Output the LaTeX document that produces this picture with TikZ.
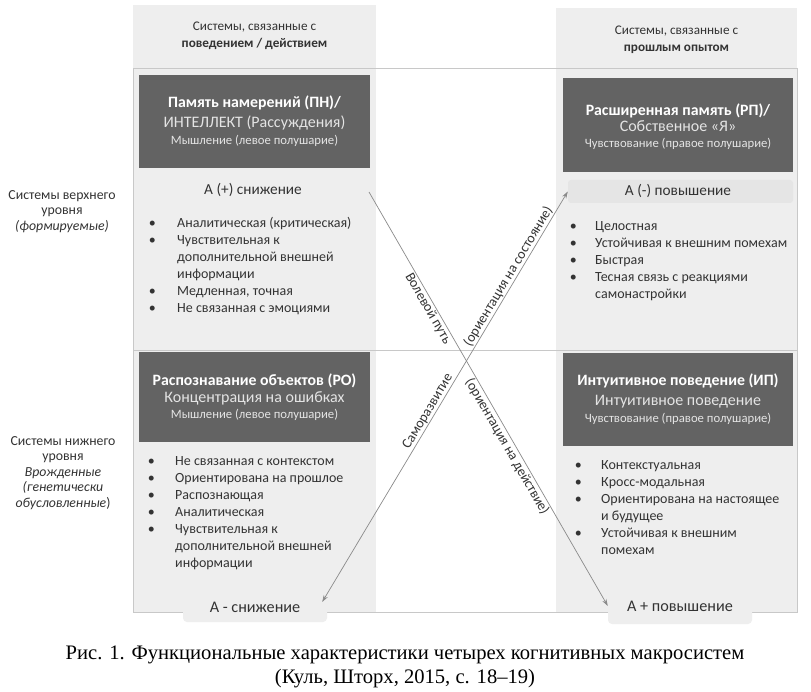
\documentclass[tikz,border=0pt]{standalone}
\usepackage{fontspec}
\setmainfont{Carlito}
\newfontfamily\capfont{Liberation Serif}
\usetikzlibrary{arrows.meta}
\definecolor{colbg}{HTML}{EEEEEE}
\definecolor{barbg}{HTML}{E5E5E5}
\definecolor{darkbg}{HTML}{636363}
\definecolor{txt}{HTML}{333333}
\definecolor{framec}{HTML}{C8C8C8}
\definecolor{arrc}{HTML}{8A8A8A}
\definecolor{lighttxt}{HTML}{E4E4E4}
\newcommand\fs[2]{\fontsize{#1}{#2}\selectfont}
\begin{document}
\begin{tikzpicture}[x=1pt,y=-1pt,
  every node/.style={inner sep=0pt, text=txt},
  darkbox/.style={fill=darkbg, draw=none},
  dtitle/.style={anchor=mid, text=white, font=\fs{15.8}{18}\bfseries},
  dsecond/.style={anchor=mid, text=lighttxt, font=\fs{16}{18}},
  dthird/.style={anchor=mid, text=lighttxt, font=\fs{12.7}{15}},
  blist/.style={anchor=mid west, font=\fs{14}{17}},
  header/.style={anchor=mid, font=\fs{13.2}{17}},
  side/.style={anchor=mid, font=\fs{13.8}{15.5}},
  alabel/.style={anchor=mid, font=\fs{15.3}{18}},
  abox/.style={fill=colbg, draw=none, rounded corners=4pt, font=\fs{16.2}{18}},
  arrowline/.style={draw=arrc, line width=0.7pt},
  tip/.style={-{Stealth[length=7pt,width=4.5pt]}},
  lab/.style={font=\fs{14}{16}, inner sep=0pt},
]
\useasboundingbox (0,0) rectangle (811,692);
\fill[white] (0,0) rectangle (811,692);
% columns
\fill[colbg] (133,5) rectangle (376,612);
\fill[colbg] (556,8) rectangle (797,612);
\draw[framec, line width=0.8pt] (133,68) rectangle (797,612);
\draw[framec, line width=0.8pt] (133,350) -- (797,350);

% headers
\node[header] (hl1) at (254.5,28) {Системы, связанные с};
\node[header, font=\fs{13.2}{17}\bfseries] (hl2) at (254.5,45) {поведением / действием};
\node[header] (hr1) at (676.5,32) {Системы, связанные с};
\node[header, font=\fs{13.2}{17}\bfseries] (hr2) at (676.5,49) {прошлым опытом};

% side labels
\node[side] (up) at (62,197) {\begin{tabular}[t]{@{}c@{}}Системы верхнего\\уровня\\\textit{(формируемые)}\end{tabular}};
\node[side] (low) at (63,443) {\begin{tabular}[t]{@{}c@{}}Системы нижнего\\уровня\\\textit{Врожденные}\\\textit{(генетически}\\\textit{обусловленные})\end{tabular}};

% dark boxes
\node[darkbox, minimum width=231pt, minimum height=93pt] (pn) at (254.5,121.5) {};
\node[dtitle] (pn1) at (254.5,105) {Память намерений (ПН)/};
\node[dsecond] (pn2) at (254.5,125) {ИНТЕЛЛЕКТ (Рассуждения)};
\node[dthird] (pn3) at (254.5,142) {Мышление (левое полушарие)};

\node[darkbox, minimum width=230pt, minimum height=94pt] (rp) at (678,125) {};
\node[dtitle] (rp1) at (678,113) {Расширенная память (РП)/};
\node[dsecond] (rp2) at (678,129) {Собственное «Я»};
\node[dthird] (rp3) at (678,145) {Чувствование (правое полушарие)};

\node[darkbox, minimum width=231pt, minimum height=90pt] (ro) at (254.5,397) {};
\node[dtitle] (ro1) at (254.5,383) {Распознавание объектов (РО)};
\node[dsecond] (ro2) at (254.5,400) {Концентрация на ошибках};
\node[dthird] (ro3) at (254.5,416) {Мышление (левое полушарие)};

\node[darkbox, minimum width=230pt, minimum height=93pt] (ip) at (678,399.5) {};
\node[dtitle] (ip1) at (678,383) {Интуитивное поведение (ИП)};
\node[dsecond] (ip2) at (678,403) {Интуитивное поведение};
\node[dthird] (ip3) at (678,420) {Чувствование (правое полушарие)};

% A labels
\node[alabel] (asnup) at (253,192) {А (+) снижение};
\node[fill=barbg, rounded corners=3pt, minimum width=225pt, minimum height=23pt] (apv) at (680.5,191.5) {};
\node[alabel] (apvt) at (678,193) {А (-) повышение};

% lists
\node[blist] (pnlist) at (148.6,225) {\begin{tabular}[t]{@{}p{28.4pt}@{}l@{}}
\textbullet & Аналитическая (критическая)\\
\textbullet & Чувствительная к\\
 & дополнительной внешней\\
 & информации\\
\textbullet & Медленная, точная\\
\textbullet & Не связанная с эмоциями
\end{tabular}};

\node[blist] (rplist) at (569.6,228) {\begin{tabular}[t]{@{}p{25.4pt}@{}l@{}}
\textbullet & Целостная\\
\textbullet & Устойчивая к внешним помехам\\
\textbullet & Быстрая\\
\textbullet & Тесная связь с реакциями\\
 & самонастройки
\end{tabular}};

\node[blist] (rolist) at (147.6,463) {\begin{tabular}[t]{@{}p{27.4pt}@{}l@{}}
\textbullet & Не связанная с контекстом\\
\textbullet & Ориентирована на прошлое\\
\textbullet & Распознающая\\
\textbullet & Аналитическая\\
\textbullet & Чувствительная к\\
 & дополнительной внешней\\
 & информации
\end{tabular}};

\node[blist] (iplist) at (574.6,467) {\begin{tabular}[t]{@{}p{26.4pt}@{}l@{}}
\textbullet & Контекстуальная\\
\textbullet & Кросс-модальная\\
\textbullet & Ориентирована на настоящее\\
 & и будущее\\
\textbullet & Устойчивая к внешним\\
 & помехам
\end{tabular}};

% bottom boxes
\node[abox, minimum width=144pt, minimum height=30pt] (asn) at (255,607) {А - снижение};
\node[abox, minimum width=144pt, minimum height=36pt] (apov) at (680,606) {А + повышение};

% arrows
\coordinate (vstart) at (369,192);
\coordinate (asnend) at ([xshift=-5pt,yshift=5pt]asn.east);
\draw[arrowline, tip] (vstart) -- (apov.west)
  node[lab, sloped, below=1pt, pos=0.273] (lvol) {Волевой путь}
  node[lab, sloped, below=1pt, pos=0.606] (lact) {(ориентация на действие)};
\draw[arrowline, {Stealth[length=7pt,width=4.5pt]}-{Stealth[length=7pt,width=4.5pt]}] (asnend) -- (apv.west)
  node[lab, sloped, above=1pt, pos=0.455] (lsamo) {Саморазвитие}
  node[lab, sloped, above=1pt, pos=0.784] (lsost) {(ориентация на состояние)};

% caption
\node[font=\capfont\fs{20.6}{24}, align=center, text=black] (cap) at (405,667)
  {Рис. 1. Функциональные характеристики четырех когнитивных макросистем\\(Куль, Шторх, 2015, с. 18–19)};
\end{tikzpicture}
\end{document}
